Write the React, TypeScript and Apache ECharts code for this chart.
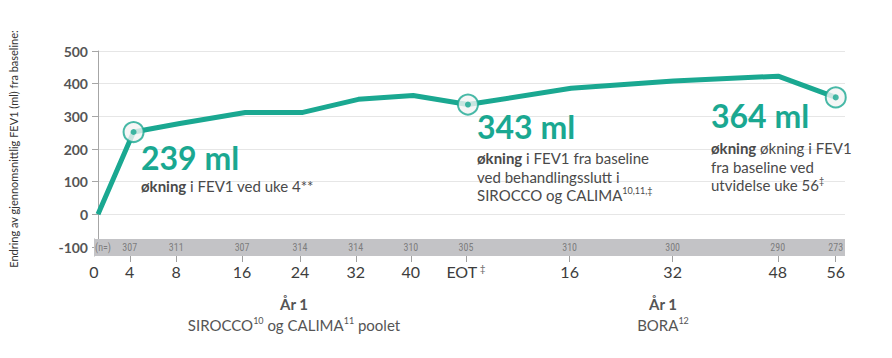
import React, { useEffect, useRef } from 'react';
import * as echarts from 'echarts';

// Visit labels along the (compressed) time axis
const weekLabels = ['0', '4', '8', '16', '24', '32', '40', 'EOT', '16', '32', '48', '56'];
// Position of each visit on the drawn, non-linear timeline (EOT placed at 52)
const timelinePos = [0, 5.0, 11.5, 20.7, 28.8, 36.6, 44.3, 52, 66.5, 80.9, 95.6, 103.7];
// Mean change in FEV1 from baseline (ml)
const fev1Change = [0, 252, 278, 312, 312, 352, 364, 336, 386, 408, 423, 358];
// Number of patients per visit
const nPatients = ['', '307', '311', '307', '314', '314', '310', '305', '310', '300', '290', '273'];
// Highlighted visits (ring markers)
const highlightIdx = [1, 7, 11];

const TEAL = '#1aa891';
const TEXT = '#4a4a4a';

export default function App() {
  const ref = useRef<HTMLDivElement>(null);

  useEffect(() => {
    if (!ref.current) return;
    const chart = echarts.init(ref.current, undefined, { renderer: 'svg' });

    const lineData = timelinePos.map((p, i) => [p, fev1Change[i]]);
    const hiData = highlightIdx.map((i) => [timelinePos[i], fev1Change[i]]);
    const nData = timelinePos
      .map((p, i) => ({ value: [p, 0.5], name: nPatients[i] }))
      .filter((d) => d.name !== '');

    const labelFor = (v: number) => {
      const i = timelinePos.findIndex((p) => Math.abs(p - v) < 0.01);
      if (i < 0) return '';
      const l = weekLabels[i];
      return l === 'EOT' ? '{n|EOT}{d| ‡}' : '{n|' + l + '}';
    };

    const option: any = {
      animation: false,
      backgroundColor: '#ffffff',
      grid: [
        { left: 94, right: 47, top: 51, height: 196 },
        {
          left: 94, right: 47, top: 239, height: 17,
          show: true, backgroundColor: '#c3c3c6', borderWidth: 0, z: 1,
        },
      ],
      xAxis: [
        { type: 'value', gridIndex: 0, min: 0, max: 105, show: false },
        {
          type: 'value', gridIndex: 1, min: 0, max: 105, position: 'bottom',
          axisLine: { show: false },
          splitLine: { show: false },
          axisTick: {
            show: true, length: 6, customValues: timelinePos.slice(1),
            lineStyle: { color: '#a0a0a0', width: 1 },
          },
          axisLabel: {
            show: true, margin: 7, customValues: timelinePos,
            formatter: (v: number) => labelFor(v),
            rich: {
              n: { fontFamily: 'Lato', fontSize: 16, color: '#3d3d3d' },
              d: { fontFamily: 'Lato', fontSize: 10, color: '#666', verticalAlign: 'top' },
            },
          },
        },
      ],
      yAxis: [
        {
          type: 'value', gridIndex: 0, min: -100, max: 500, interval: 100,
          name: 'Endring av gjennomsnittlig FEV1 (ml) fra baseline:',
          nameLocation: 'middle', nameGap: 79, nameRotate: 90,
          nameTextStyle: { fontFamily: 'Lato', fontSize: 11, color: '#333' },
          axisLine: { show: true, lineStyle: { color: '#a6a6a6', width: 1 } },
          axisTick: { show: true, length: 6, lineStyle: { color: '#a6a6a6' } },
          axisLabel: {
            margin: 10, fontFamily: 'Lato', fontWeight: 'bold', fontSize: 14, color: '#555',
          },
          splitLine: {
            show: true,
            lineStyle: { color: ['rgba(0,0,0,0)', '#e6e6e6', '#e6e6e6', '#e6e6e6', '#e6e6e6', '#e6e6e6', '#e6e6e6'], width: 1 },
          },
        },
        {
          type: 'value', gridIndex: 1, min: 0, max: 1, show: true,
          axisLine: { show: true, lineStyle: { color: '#a6a6a6', width: 1 } },
          axisTick: { show: false }, axisLabel: { show: false }, splitLine: { show: false },
        },
      ],
      series: [
        {
          type: 'line', xAxisIndex: 0, yAxisIndex: 0, data: lineData,
          symbol: 'none', lineStyle: { color: TEAL, width: 5 }, z: 2,
        },
        {
          type: 'scatter', xAxisIndex: 0, yAxisIndex: 0, data: hiData,
          symbol: 'circle', symbolSize: 20,
          itemStyle: { color: '#f4f4f4', borderColor: TEAL, borderWidth: 2 }, z: 3,
        },
        {
          type: 'scatter', xAxisIndex: 0, yAxisIndex: 0, data: hiData,
          symbol: 'circle', symbolSize: 6, itemStyle: { color: TEAL }, z: 4,
        },
        {
          type: 'scatter', xAxisIndex: 1, yAxisIndex: 1, data: nData,
          symbolSize: 0, z: 5,
          label: {
            show: true, position: 'inside', formatter: '{b}',
            fontFamily: 'Liberation Sans Narrow, Roboto Condensed, Roboto', fontSize: 10, color: '#6a6a6a',
          },
        },
        {
          type: 'scatter', xAxisIndex: 1, yAxisIndex: 1,
          data: [{ value: [0, 0.5], name: '(n=)' }],
          symbolSize: 0, z: 5,
          label: {
            show: true, position: 'right', distance: 1, formatter: '{b}',
            fontFamily: 'Liberation Sans Narrow, Roboto Condensed, Roboto', fontSize: 10, color: '#6a6a6a',
          },
        },
      ],
      graphic: {
        elements: [
          {
            type: 'group', z: 100,
            children: [
              {
                type: 'text', x: 141, y: 157, z: 100,
                style: { text: '239 ml', fontFamily: 'Lato', fontWeight: 'bold', fontSize: 32, fill: TEAL, verticalAlign: 'middle' },
              },
              {
                type: 'text', x: 141, y: 176, z: 100,
                style: {
                  text: '{b|økning} i FEV1 ved uke 4**',
                  fontFamily: 'Lato', fontSize: 15, fill: TEXT, lineHeight: 19, verticalAlign: 'top',
                  rich: { b: { fontFamily: 'Lato', fontWeight: 'bold', fontSize: 15, fill: TEXT } },
                },
              },
              {
                type: 'text', x: 477, y: 126, z: 100,
                style: { text: '343 ml', fontFamily: 'Lato', fontWeight: 'bold', fontSize: 32, fill: TEAL, verticalAlign: 'middle' },
              },
              {
                type: 'text', x: 477, y: 149, z: 100,
                style: {
                  text: '{b|økning} i FEV1 fra baseline\nved behandlingsslutt i\nSIROCCO og CALIMA{s|10,11,‡}',
                  fontFamily: 'Lato', fontSize: 15, fill: TEXT, lineHeight: 18.5, verticalAlign: 'top',
                  rich: {
                    b: { fontFamily: 'Lato', fontWeight: 'bold', fontSize: 15, fill: TEXT },
                    s: { fontFamily: 'Lato', fontSize: 9, fill: TEXT, verticalAlign: 'top', lineHeight: 18.5 },
                  },
                },
              },
              {
                type: 'text', x: 711, y: 115, z: 100,
                style: { text: '364 ml', fontFamily: 'Lato', fontWeight: 'bold', fontSize: 32, fill: TEAL, verticalAlign: 'middle' },
              },
              {
                type: 'text', x: 711, y: 139, z: 100,
                style: {
                  text: '{b|økning} økning i FEV1\nfra baseline ved\nutvidelse uke 56{s|‡}',
                  fontFamily: 'Lato', fontSize: 15, fill: TEXT, lineHeight: 18.5, verticalAlign: 'top',
                  rich: {
                    b: { fontFamily: 'Lato', fontWeight: 'bold', fontSize: 15, fill: TEXT },
                    s: { fontFamily: 'Lato', fontSize: 9, fill: TEXT, verticalAlign: 'top', lineHeight: 18.5 },
                  },
                },
              },
              {
                type: 'text', x: 294, y: 304, z: 100,
                style: { text: 'År 1', fontFamily: 'Lato', fontWeight: 'bold', fontSize: 15, fill: '#555', align: 'center', verticalAlign: 'middle' },
              },
              {
                type: 'text', x: 294, y: 325, z: 100,
                style: {
                  text: 'SIROCCO{s|10} og CALIMA{s|11} poolet',
                  fontFamily: 'Lato', fontSize: 15, fill: '#555', align: 'center', verticalAlign: 'middle', lineHeight: 18,
                  rich: { s: { fontFamily: 'Lato', fontSize: 9, fill: '#555', verticalAlign: 'top', lineHeight: 18 } },
                },
              },
              {
                type: 'text', x: 663, y: 304, z: 100,
                style: { text: 'År 1', fontFamily: 'Lato', fontWeight: 'bold', fontSize: 15, fill: '#555', align: 'center', verticalAlign: 'middle' },
              },
              {
                type: 'text', x: 663, y: 325, z: 100,
                style: {
                  text: 'BORA{s|12}',
                  fontFamily: 'Lato', fontSize: 15, fill: '#555', align: 'center', verticalAlign: 'middle', lineHeight: 18,
                  rich: { s: { fontFamily: 'Lato', fontSize: 9, fill: '#555', verticalAlign: 'top', lineHeight: 18 } },
                },
              },
            ],
          },
        ],
      },
    };

    chart.setOption(option);
    return () => chart.dispose();
  }, []);

  return (
    <div
      ref={ref}
      style={{ position: 'fixed', left: 0, top: 0, width: 892, height: 358 }}
    />
  );
}
